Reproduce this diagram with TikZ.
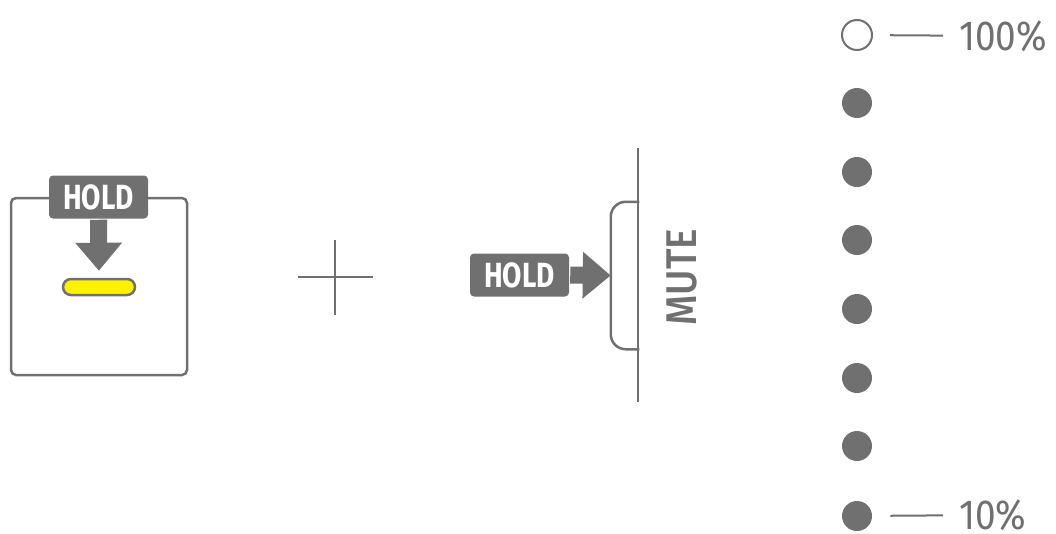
\documentclass[tikz,border=0pt]{standalone}
\usepackage{fontspec}
\setmainfont{Fira Sans}
\newfontfamily\holdfont{Fira Sans}[FakeStretch=0.8]
\newfontfamily\labelfont{Fira Sans}[FakeStretch=0.88]
\newfontfamily\mutefont{Fira Sans Medium}[FakeStretch=0.9]
\usetikzlibrary{arrows.meta}
\definecolor{ink}{HTML}{707070}
\definecolor{padyellow}{HTML}{FFF200}

\begin{document}
\begin{tikzpicture}[x=1pt,y=-1pt,line width=2.5pt,ink]
 \useasboundingbox (0,0) rectangle (1056,533);
 \tikzset{tab/.style={fill=ink,rounded corners=4pt,minimum width=99pt,minimum height=43pt,inner sep=0pt,
   text=white,font=\holdfont\bfseries\fontsize{35}{35}\selectfont},
  push/.style={line width=17pt,-{Triangle[width=45pt,length=28pt]}},
  lvl/.style={circle,minimum size=30pt,inner sep=0pt},
  pct/.style={anchor=west,inner sep=0pt,font=\labelfont\fontsize{42}{42}\selectfont}}
 % pad with the held key
 \node[draw,rounded corners=5pt,minimum width=176pt,minimum height=177pt,inner sep=0pt] (pad) at (99,286.5) {};
 \node[draw,fill=padyellow,rounded corners=8pt,minimum width=72pt,minimum height=16pt,inner sep=0pt] (bar) at (99,287) {};
 \node[tab] (hold1) at (98.5,197) {HOLD};
 \draw[push,shorten >=7pt] (hold1.south) -- (bar.north);
 % plus
 \draw[line width=2pt] (298,277) -- (373,277) (335,240) -- (335,315);
 % mute button
 \draw (638,148) -- (638,402);
 \node[minimum width=26pt,minimum height=145pt,inner sep=0pt] (btn) at (625,275.5) {};
 \draw[rounded corners=15pt] (btn.north east) -| (btn.west) |- (btn.south east);
 \node[tab] (hold2) at (519.5,275) {HOLD};
 \draw[push] (hold2.east) -- (btn.west);
 \node[rotate=90,inner sep=0pt,font=\mutefont\fontsize{43}{43}\selectfont] (mute) at (682,277) {MUTE};
 % level dots
 \node[lvl,draw,line width=2pt] (lv1) at (857,35) {};
 \foreach \i/\y in {2/103,3/172,4/240,5/309,6/378,7/446,8/516}
  \node[lvl,fill] (lv\i) at (857,\y) {};
 \node[pct] (top) at (958,36) {100\%};
 \node[pct] (low) at (958,515) {10\%};
 \draw[line width=2pt,shorten <=17pt,shorten >=15pt] (lv1) -- (top);
 \draw[line width=2pt,shorten <=17pt,shorten >=15pt] (lv8) -- (low);
\end{tikzpicture}
\end{document}
